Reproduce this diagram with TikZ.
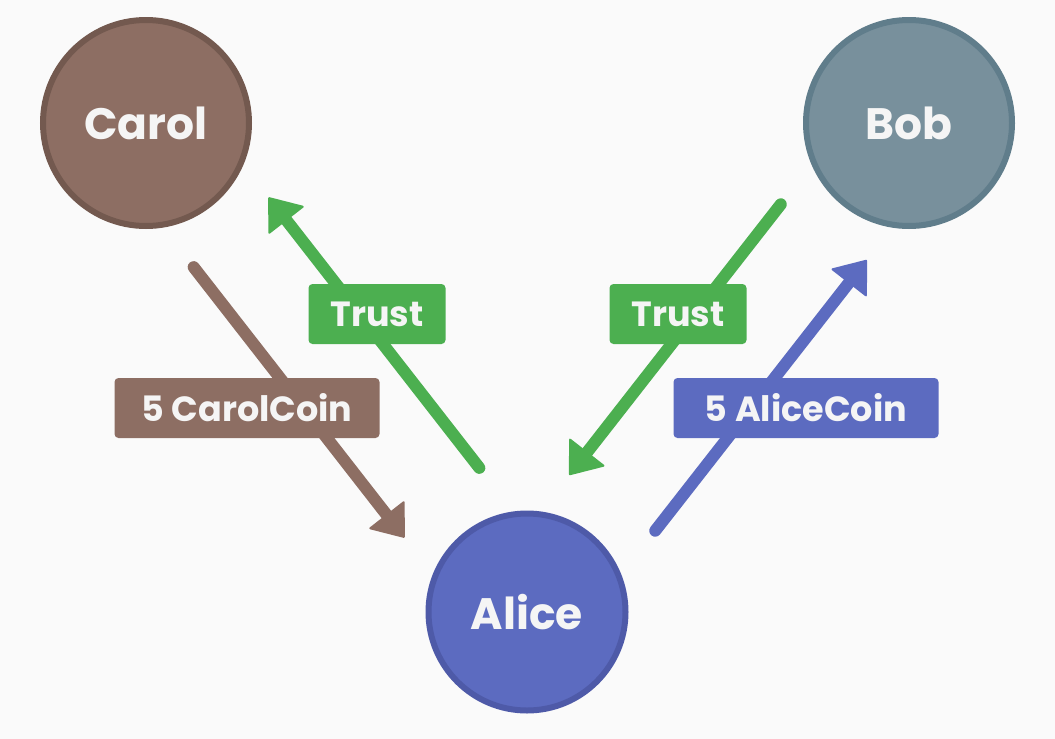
\documentclass[tikz,border=0pt]{standalone}
\usepackage{fontspec}
\setmainfont{Poppins}
\usetikzlibrary{arrows.meta,calc,positioning}

\definecolor{paper}{HTML}{FAFAFA}
\definecolor{carolfill}{HTML}{8D6E63}
\definecolor{carolline}{HTML}{73594F}
\definecolor{bobfill}{HTML}{78909C}
\definecolor{bobline}{HTML}{607D8B}
\definecolor{alicefill}{HTML}{5C6BC0}
\definecolor{aliceline}{HTML}{4E5AA8}
\definecolor{trustgreen}{HTML}{4CAF50}
\definecolor{lettering}{HTML}{F5F5F5}

\begin{document}
\begin{tikzpicture}%
    [x=1pt, y=-1pt,
    >={Triangle[length=30pt,width=46pt,round,line width=2pt]},
    on grid,
    person/.style={circle, line width=6pt, minimum size=206pt, text=lettering,
        font=\fontsize{44}{44}\selectfont\bfseries},
    tag/.style={rounded corners=4pt, minimum height=60pt, inner sep=0pt, text=lettering,
        font=\fontsize{35}{35}\selectfont\bfseries},
    flow/.style={->, line width=12pt, line cap=round,
        shorten <=143pt, shorten >=134pt,
        to path={($(\tikztostart)!51pt!-90:(\tikztotarget)$) --
                 ($(\tikztotarget)!51pt!90:(\tikztostart)$) \tikztonodes}}
    ]
    \fill[paper] (0,0) rectangle (1055,739);
    \useasboundingbox (0,0) rectangle (1055,739);

    \node[person, fill=alicefill, draw=aliceline, minimum size=197pt] (alice) at (527,612) {Alice};
    \node[person, fill=carolfill, draw=carolline] (carol) [above left=489pt and 381pt of alice]  {Carol};
    \node[person, fill=bobfill,   draw=bobline]   (bob)   [above right=489pt and 382pt of alice] {Bob};

    \path
    % FROM       STYLE                       TO
    (carol) edge[flow, carolfill]  (alice)
    (alice) edge[flow, trustgreen] (carol)
    (bob)   edge[flow, trustgreen] (alice)
    (alice) edge[flow, alicefill]  (bob)
    ;

    \node[tag, fill=carolfill,  minimum width=265pt] (carolcoin)  [above left=204pt and 280pt of alice]  {5 CarolCoin};
    \node[tag, fill=trustgreen, minimum width=137pt] (trustcarol) [above left=298pt and 150pt of alice]  {Trust};
    \node[tag, fill=trustgreen, minimum width=137pt] (trustbob)   [above right=298pt and 151pt of alice] {Trust};
    \node[tag, fill=alicefill,  minimum width=265pt] (alicecoin)  [above right=204pt and 279pt of alice] {5 AliceCoin};
  \end{tikzpicture}
\end{document}
